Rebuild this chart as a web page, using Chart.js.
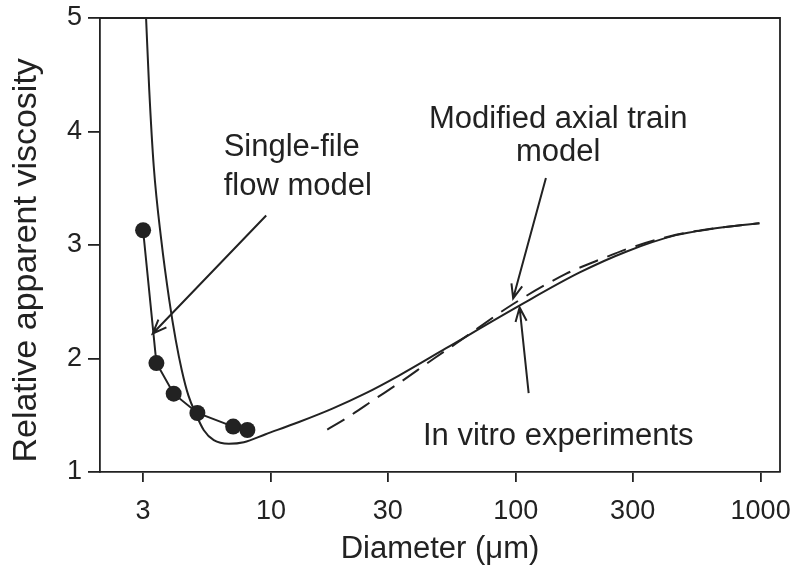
<!DOCTYPE html>
<html><head><meta charset="utf-8">
<script src="https://cdn.jsdelivr.net/npm/chart.js@4"></script>
<style>html,body{margin:0;padding:0;background:#fff}#wrap{width:797px;height:578px}</style>
</head><body><div id="wrap"><canvas id="c" width="797" height="578"></canvas></div>
<script>
const xTicks = [3, 10, 30, 100, 300, 1000];
const yTicks = [1, 2, 3, 4, 5];

const singleFileD = [3, 3.4, 4, 5, 7, 8];
const singleFileV = [3.13, 1.96, 1.69, 1.52, 1.40, 1.37];

const inVitroD = [3.085, 3.178, 3.317, 3.559, 3.837, 4.079, 4.317, 4.589, 4.912, 5.312, 5.834, 6.721, 7.74, 9.5, 13.0, 17.8, 24.4, 33.3, 51.7, 103, 181.5, 282, 451, 617, 989];
const inVitroV = [5.0, 4.369, 3.689, 3.045, 2.515, 2.162, 1.897, 1.677, 1.518, 1.368, 1.280, 1.249, 1.262, 1.333, 1.441, 1.559, 1.695, 1.850, 2.089, 2.464, 2.756, 2.941, 3.087, 3.139, 3.192];

const axialD = [16.96, 20.2, 26.8, 33.3, 46.3, 56.8, 96.8, 160, 205.6, 240.8, 282, 451, 617, 989];
const axialV = [1.374, 1.471, 1.648, 1.783, 2.0, 2.13, 2.476, 2.745, 2.846, 2.904, 2.962, 3.09, 3.14, 3.192];

const labelTexts = ['Single-file', 'flow model', 'Modified axial train', 'model', 'In vitro experiments'];
const labelD = [6.4, 6.4, 149, 149, 149];
const labelV = [3.78, 3.44, 4.03, 3.736, 1.236];
const labelAlign = ['left', 'left', 'center', 'center', 'center'];

const arrowFromD = [9.55, 132.7, 112.8];
const arrowFromV = [3.26, 3.59, 1.695];
const arrowToD = [3.285, 97.5, 103.6];
const arrowToV = [2.22, 2.53, 2.449];

const INK = '#222';
const FONT = "'Liberation Sans', Arial, Helvetica, sans-serif";

const pts = (xs, ys) => xs.map((x, i) => ({x, y: ys[i]}));

const frame = {
  id: 'frame',
  afterDraw(chart) {
    const {ctx, chartArea: a} = chart;
    ctx.save();
    ctx.strokeStyle = INK; ctx.lineWidth = 1.8;
    ctx.beginPath();
    ctx.moveTo(a.left, a.top); ctx.lineTo(a.right, a.top); ctx.lineTo(a.right, a.bottom);
    ctx.stroke();
    ctx.restore();
  }
};

const notes = {
  id: 'notes',
  afterDatasetsDraw(chart) {
    const {ctx, scales: {x, y}} = chart;
    ctx.save();
    ctx.fillStyle = INK;
    ctx.font = '31px ' + FONT;
    ctx.textBaseline = 'alphabetic';
    labelTexts.forEach((t, i) => {
      ctx.textAlign = labelAlign[i];
      ctx.fillText(t, x.getPixelForValue(labelD[i]), y.getPixelForValue(labelV[i]));
    });
    ctx.strokeStyle = INK; ctx.lineWidth = 2;
    arrowFromD.forEach((d, i) => {
      const x1 = x.getPixelForValue(d), y1 = y.getPixelForValue(arrowFromV[i]);
      const x2 = x.getPixelForValue(arrowToD[i]), y2 = y.getPixelForValue(arrowToV[i]);
      const ang = Math.atan2(y2 - y1, x2 - x1);
      const L = 15, h = 0.38;
      ctx.beginPath();
      ctx.moveTo(x1, y1); ctx.lineTo(x2, y2);
      ctx.moveTo(x2 - L * Math.cos(ang - h), y2 - L * Math.sin(ang - h));
      ctx.lineTo(x2, y2);
      ctx.lineTo(x2 - L * Math.cos(ang + h), y2 - L * Math.sin(ang + h));
      ctx.stroke();
    });
    ctx.restore();
  }
};

new Chart(document.getElementById('c'), {
  type: 'scatter',
  data: {
    datasets: [
      {label: 'In vitro', data: pts(inVitroD, inVitroV), showLine: true, borderColor: INK, borderWidth: 2, pointRadius: 0, cubicInterpolationMode: 'monotone', order: 3},
      {label: 'Axial train', data: pts(axialD, axialV), showLine: true, borderColor: INK, borderWidth: 2, borderDash: [20, 10], pointRadius: 0, cubicInterpolationMode: 'monotone', order: 2},
      {label: 'Single-file', data: pts(singleFileD, singleFileV), showLine: true, borderColor: INK, borderWidth: 2, pointRadius: 8, pointBackgroundColor: INK, pointBorderWidth: 0, tension: 0, order: 1}
    ]
  },
  options: {
    responsive: false, devicePixelRatio: 1, animation: false,
    layout: {padding: {top: 18, right: 17, left: 0, bottom: 0}},
    plugins: {legend: {display: false}, tooltip: {enabled: false}},
    scales: {
      x: {
        type: 'logarithmic', min: 2, max: 1200,
        afterBuildTicks: s => { s.ticks = xTicks.map(v => ({value: v})); },
        afterFit: s => { s.height = 106; s.paddingLeft = 0; s.paddingRight = 0; },
        ticks: {callback: v => String(v), font: {size: 27, family: FONT}, color: INK, padding: 13, maxRotation: 0, autoSkip: false},
        grid: {display: true, drawOnChartArea: false, drawTicks: true, tickLength: 10, color: INK, lineWidth: 1.8},
        border: {display: true, color: INK, width: 1.8},
        title: {display: true, text: 'Diameter (μm)', font: {size: 31, family: FONT}, color: INK, padding: {top: 0, bottom: 10}}
      },
      y: {
        type: 'linear', min: 1, max: 5,
        afterBuildTicks: s => { s.ticks = yTicks.map(v => ({value: v})); },
        afterFit: s => { s.width = 100; s.paddingTop = 0; s.paddingBottom = 0; },
        ticks: {font: {size: 27, family: FONT}, color: INK, padding: 6},
        grid: {display: true, drawOnChartArea: false, drawTicks: true, tickLength: 12, color: INK, lineWidth: 1.8},
        border: {display: true, color: INK, width: 1.8},
        title: {display: true, text: ' Relative apparent viscosity', align: 'start', font: {size: 34, family: FONT}, color: INK, padding: {top: 6, bottom: 0}}
      }
    }
  },
  plugins: [frame, notes]
});
</script>
</body></html>
